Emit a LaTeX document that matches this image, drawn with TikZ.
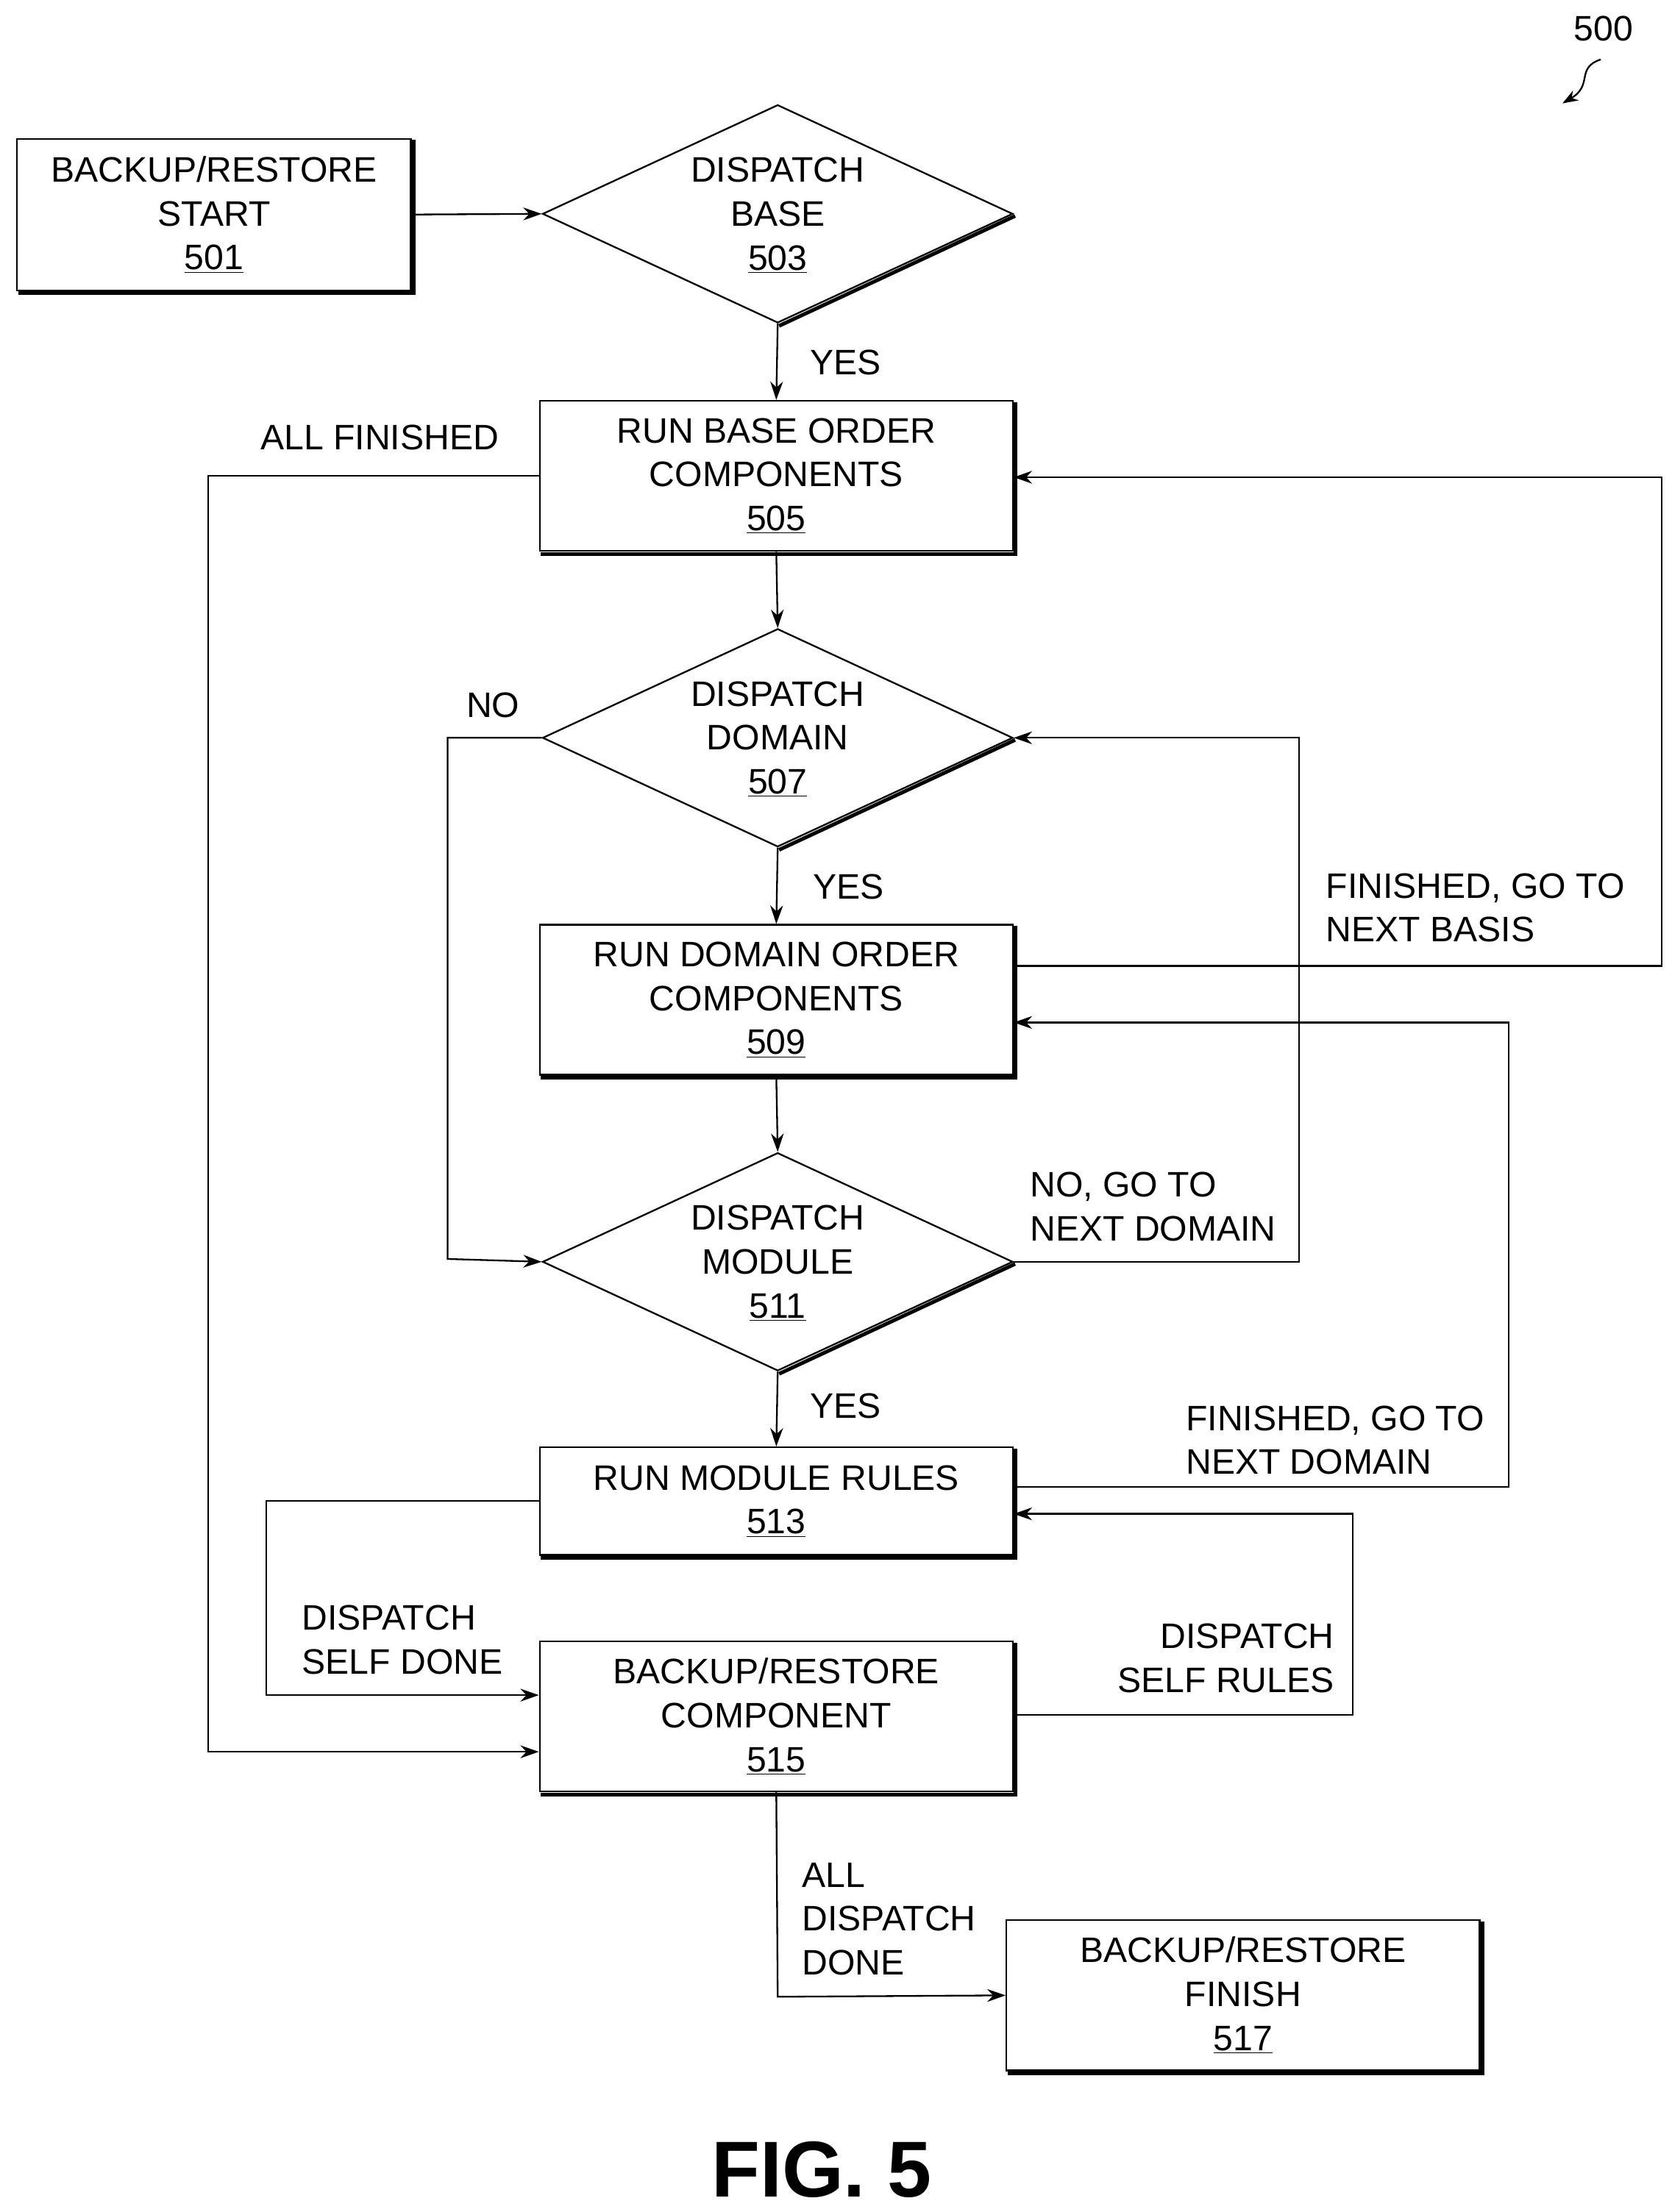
\documentclass[tikz,border=0pt]{standalone}
\usepackage{fontspec}
\setmainfont{Liberation Sans}
\usetikzlibrary{shapes.geometric,arrows.meta}
\begin{document}
\begin{tikzpicture}[x=1pt,y=-1pt,
  every node/.style={font=\fontsize{25}{31}\selectfont},
  box/.style={draw,line width=1.2pt,minimum width=334pt,minimum height=106pt,align=center,inner sep=0},
  dia/.style={draw,diamond,line width=1.2pt,minimum width=332pt,minimum height=154pt,inner sep=0},
  lab/.style={align=left,inner sep=0},
  con/.style={line width=1.2pt,-{Stealth[length=13pt,width=9pt]}},
  shd/.style={line width=2.6pt}]
\useasboundingbox (0,0) rectangle (1180,1562);
% boxes
\node[box,minimum width=278pt,minimum height=107pt] (b501) at (151,151.5) {BACKUP/RESTORE\\START\\\underline{501}};
\node[box] (b505) at (548,336) {RUN BASE ORDER\\COMPONENTS\\\underline{505}};
\node[box] (b509) at (548,706) {RUN DOMAIN ORDER\\COMPONENTS\\\underline{509}};
\node[box,minimum height=76pt] (b513) at (548,1060) {RUN MODULE RULES\\\underline{513}};
\node[box] (b515) at (548,1212) {BACKUP/RESTORE\\COMPONENT\\\underline{515}};
\node[box] (b517) at (877.5,1409) {BACKUP/RESTORE\\FINISH\\\underline{517}};
\foreach \b in {b501,b505,b509,b513,b515,b517}{
  \draw[shd] ([xshift=1.5pt,yshift=-1.5pt]\b.south west) -- ([xshift=1.5pt,yshift=-1.5pt]\b.south east) -- ([xshift=1.5pt,yshift=-1.5pt]\b.north east);}
% diamonds
\node[dia] (d503) at (549,151) {};
\node[align=center] at (549,152) {DISPATCH\\BASE\\\underline{503}};
\node[dia] (d507) at (549,521) {};
\node[align=center] at (549,522) {DISPATCH\\DOMAIN\\\underline{507}};
\node[dia] (d511) at (549,891) {};
\node[align=center] at (549,892) {DISPATCH\\MODULE\\\underline{511}};
\foreach \d in {d503,d507,d511}{
  \draw[shd] ([xshift=1pt,yshift=-1.5pt]\d.south) -- ([xshift=1pt,yshift=-1.5pt]\d.east);}
% connectors
\draw[con] (b501.east) -- (d503.west);
\draw[con] (d503.south) -- (b505.north);
\node[lab] at (597,256) {YES};
\draw[con] (b505.west) -- (147,336) -- (147,1237) -- (b515.west |- 0,1237);
\node[lab] at (268,309) {ALL FINISHED};
\draw[con] (b505.south) -- (d507.north);
\draw[con] (d507.west) -- (316,521) -- (316,889) -- (d511.west);
\node[lab] at (348,498) {NO};
\draw[con] (d507.south) -- (b509.north);
\node[lab] at (599,626) {YES};
\draw[con] (b509.east |- 0,682) -- (1173,682) -- (1173,337) -- (b505.east |- 0,337);
\node[lab,anchor=west] at (936,641) {FINISHED, GO TO\\NEXT BASIS};
\draw[con] (b509.south) -- (d511.north);
\draw[con] (d511.east) -- (917,891) -- (917,521) -- (d507.east);
\node[lab,anchor=west] at (727,852) {NO, GO TO\\NEXT DOMAIN};
\draw[con] (d511.south) -- (b513.north);
\node[lab] at (597,993) {YES};
\draw[con] (b513.east |- 0,1050) -- (1065,1050) -- (1065,722) -- (b509.east |- 0,722);
\node[lab,anchor=west] at (837,1017) {FINISHED, GO TO\\NEXT DOMAIN};
\draw[con] (b513.west |- 0,1060) -- (188,1060) -- (188,1197) -- (b515.west |- 0,1197);
\node[lab,anchor=west] at (213,1158) {DISPATCH\\SELF DONE};
\draw[con] (b515.east |- 0,1211) -- (955,1211) -- (955,1069) -- (b513.east |- 0,1069);
\node[lab,anchor=east,align=right] at (942,1171) {DISPATCH\\SELF RULES};
\draw[con] (b515.south) -- (549,1410) -- (b517.west);
\node[lab,anchor=west] at (566,1355) {ALL\\DISPATCH\\DONE};
% figure label
\node[font=\fontsize{56}{64}\selectfont\bfseries] at (580,1532) {FIG. 5};
\node (n500) at (1132,20) {500};
\coordinate (a500) at (1103,73);
\draw[line width=1.2pt,-{Stealth[length=11pt,width=8pt]}] (1130,42) .. controls (1112,48) and (1125,60) .. (a500);
\end{tikzpicture}
\end{document}
